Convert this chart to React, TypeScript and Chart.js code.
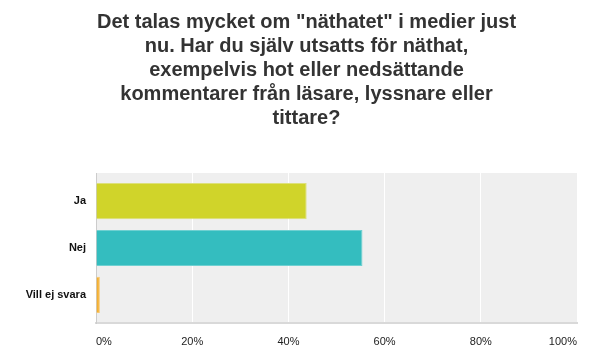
import React, { useEffect, useRef } from "react";
import { Chart, registerables } from "chart.js";

Chart.register(...registerables);

const titleLines = [
  'Det talas mycket om "näthatet" i medier just',
  "nu. Har du själv utsatts för näthat,",
  "exempelvis hot eller nedsättande",
  "kommentarer från läsare, lyssnare eller",
  "tittare?",
];
const categories = ["Ja", "Nej", "Vill ej svara"];
const values = [43.8, 55.4, 0.8];
const xTicks = [0, 20, 40, 60, 80, 100];
const barColors = ["#d0d42a", "#34bdbf", "#f5b031"];
const barBorders = ["#dde07a", "#6fd0d1", "#f8c86e"];

const FONT = "Arial, 'Liberation Sans', sans-serif";

const plotBg = {
  id: "plotBg",
  beforeDraw(chart: any) {
    const { ctx, chartArea } = chart;
    if (!chartArea) return;
    ctx.save();
    ctx.fillStyle = "#efefef";
    ctx.fillRect(chartArea.left, chartArea.top, chartArea.right - chartArea.left, chartArea.bottom - chartArea.top);
    ctx.restore();
  },
};

const pageTitle = {
  id: "pageTitle",
  afterDraw(chart: any) {
    const { ctx, width } = chart;
    ctx.save();
    ctx.fillStyle = "#333333";
    ctx.font = `bold 20px ${FONT}`;
    ctx.textAlign = "center";
    ctx.textBaseline = "middle";
    titleLines.forEach((line, i) => {
      ctx.fillText(line, width / 2 + 1, 22 + i * 24);
    });
    ctx.restore();
  },
};

export default function App() {
  const ref = useRef<HTMLCanvasElement | null>(null);
  useEffect(() => {
    document.body.style.margin = "0";
    if (!ref.current) return;
    const chart = new Chart(ref.current, {
      type: "bar",
      data: {
        datasets: [
          {
            data: values.map((v, i) => ({ x: v, y: i })),
            backgroundColor: barColors,
            borderColor: barBorders,
            borderWidth: 1,
            categoryPercentage: 1,
            barPercentage: 0.77,
          },
        ],
      },
      plugins: [plotBg, pageTitle],
      options: {
        indexAxis: "y",
        animation: false,
        responsive: false,
        maintainAspectRatio: false,
        layout: { padding: { top: 173, left: 0, right: 34, bottom: 0 } },
        plugins: {
          legend: { display: false },
          tooltip: { enabled: false },
          title: { display: false },
        },
        scales: {
          x: {
            type: "linear",
            min: 0,
            max: 100,
            afterBuildTicks: (axis: any) => {
              axis.ticks = xTicks.map((v) => ({ value: v }));
            },
            afterFit: (axis: any) => {
              axis.height = 34;
            },
            grid: { color: "#ffffff", lineWidth: 1, drawTicks: false },
            border: { display: true, color: "#d9d9d9", width: 2 },
            ticks: {
              align: "inner",
              padding: 12,
              color: "#222222",
              font: { family: FONT, size: 11 },
              callback: (v: any) => v + "%",
            },
          },
          y: {
            type: "linear",
            reverse: true,
            offset: false,
            bounds: "data",
            min: -0.6,
            max: 2.6,
            afterBuildTicks: (axis: any) => {
              axis.ticks = categories.map((_, i) => ({ value: i }));
            },
            afterFit: (axis: any) => {
              axis.width = 96;
            },
            grid: { display: false, drawTicks: false },
            border: { display: true, color: "#cccccc", width: 1 },
            ticks: {
              padding: 10,
              color: "#111111",
              font: { family: FONT, size: 11, weight: "bold" },
              callback: (v: any) => categories[v] ?? "",
            },
          },
        },
      } as any,
    });
    return () => chart.destroy();
  }, []);
  return (
    <div style={{ width: 611, height: 357 }}>
      <canvas ref={ref} width={611} height={357} style={{ display: "block" }} />
    </div>
  );
}
